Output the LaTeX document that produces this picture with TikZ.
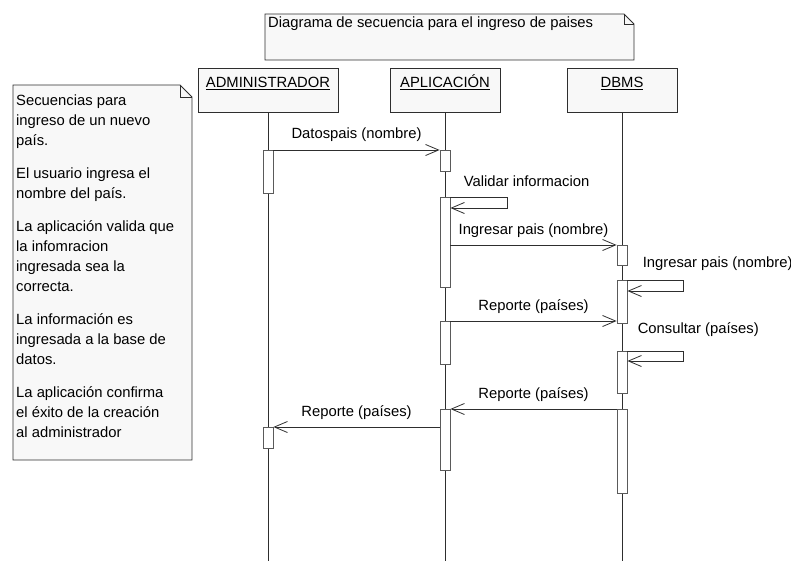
\documentclass[tikz,border=0pt]{standalone}
\usepackage{fontspec}
\setmainfont{Liberation Sans}
\usetikzlibrary{arrows.meta}
\definecolor{ink}{HTML}{2E2E2E}
\definecolor{edge}{HTML}{5A5A5A}
\definecolor{paper}{HTML}{F8F8F8}

\begin{document}
\begin{tikzpicture}[x=1pt,y=-1pt,
  font=\fontsize{14.8}{20}\selectfont,
  actor/.style={draw=ink,fill=paper,line width=0.8pt,anchor=north,inner ysep=0pt,
    inner xsep=8pt,minimum width=110pt,text height=19pt,text depth=25pt},
  act/.style={draw=edge,fill=white,line width=0.8pt,anchor=north,inner sep=0pt,
    minimum width=10pt},
  life/.style={draw=ink,line width=0.8pt},
  msg/.style={-{Straight Barb[length=13pt,width=11pt]},line width=0.8pt,draw=ink},
  lbl/.style={anchor=base,inner sep=0pt,yshift=11pt},
  slbl/.style={anchor=base west,inner sep=0pt},
  notebox/.style={draw=ink,fill=paper,line width=0.8pt},
  fold/.style={draw=ink,line width=0.8pt}]
\useasboundingbox (0,0) rectangle (791,561);

% notas
\draw[notebox] (265,14) -- (624,14) -- (634,24) -- (634,60) -- (265,60) -- cycle;
\draw[fold] (624,14) |- (634,24);
\node[slbl] (titulo) at (268,28) {Diagrama de secuencia para el ingreso de paises};

\draw[notebox] (13,85) -- (180,85) -- (192,97) -- (192,460) -- (13,460) -- cycle;
\draw[fold] (180,85) |- (192,97);
\node[align=left,anchor=north west,inner sep=0pt] (memo) at (16,95)
  {Secuencias para\\ingreso de un nuevo\\país.\\[13pt]
   El usuario ingresa el\\nombre del país.\\[13pt]
   La aplicación valida que\\la infomracion\\ingresada sea la\\correcta.\\[13pt]
   La información es\\ingresada a la base de\\datos.\\[13pt]
   La aplicación confirma\\el éxito de la creación\\al administrador};

% objetos y lineas de vida
\node[actor] (adm) at (268,68) {\underline{ADMINISTRADOR}};
\node[actor] (apl) at (445,68) {\underline{APLICACIÓN}};
\node[actor] (dbms) at (622,68) {\underline{DBMS}};
\draw[life] (adm.south) -- (adm.south |- 0,561);
\draw[life] (apl.south) -- (apl.south |- 0,561);
\draw[life] (dbms.south) -- (dbms.south |- 0,561);

% activaciones
\node[act,minimum height=43pt] (a1) at (268,150) {};
\node[act,minimum height=21pt] (a2) at (268,427) {};
\node[act,minimum height=21pt] (p1) at (445,150) {};
\node[act,minimum height=90pt] (p2) at (445,197) {};
\node[act,minimum height=43pt] (p3) at (445,321) {};
\node[act,minimum height=61pt] (p4) at (445,409) {};
\node[act,minimum height=20pt] (d1) at (622,245) {};
\node[act,minimum height=43pt] (d2) at (622,280) {};
\node[act,minimum height=42pt] (d3) at (622,351) {};
\node[act,minimum height=84pt] (d4) at (622,409) {};

% mensajes
\draw[msg] (a1.north east) -- node[lbl]{Datospais (nombre)} (p1.north west);
\draw[msg] (p2.north east) node[slbl,xshift=13pt,yshift=10pt]{Validar informacion}
  -- ++(57,0) -- ++(0,11) -- ++(-57,0);
\draw[msg] (d1.north west -| p2.east) -- node[lbl]{Ingresar pais (nombre)} (d1.north west);
\draw[msg] (d2.north east) node[slbl,xshift=15pt,yshift=13pt]{Ingresar pais (nombre)}
  -- ++(56,0) -- ++(0,11) -- ++(-56,0);
\draw[msg] (p3.north east) -- node[lbl]{Reporte (países)} (p3.north east -| d2.west);
\draw[msg] (d3.north east) node[slbl,xshift=10pt,yshift=18pt]{Consultar (países)}
  -- ++(56,0) -- ++(0,10) -- ++(-56,0);
\draw[msg] (d4.north west) -- node[lbl]{Reporte (países)} (p4.north east);
\draw[msg] (a2.north east -| p4.west) -- node[lbl]{Reporte (países)} (a2.north east);
\end{tikzpicture}
\end{document}
